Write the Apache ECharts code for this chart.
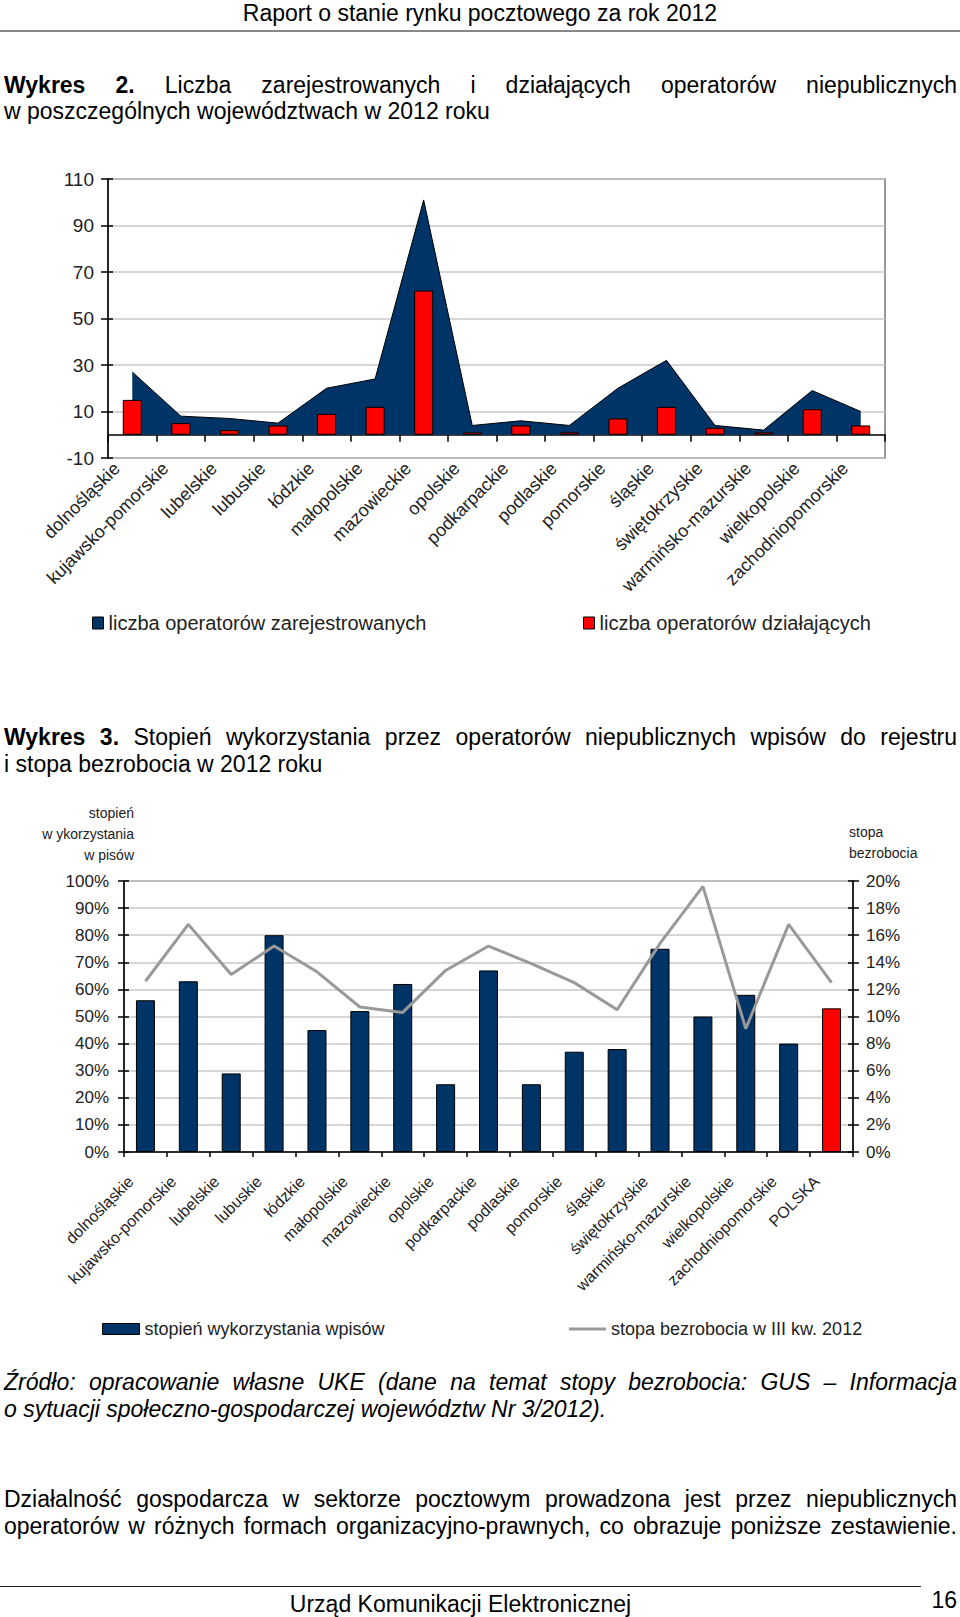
<!DOCTYPE html>
<html>
<head>
<meta charset="utf-8">
<script src="https://cdn.jsdelivr.net/npm/echarts/dist/echarts.min.js"></script>
<style>
  html, body { margin: 0; padding: 0; background: #fff; }
  body { width: 960px; height: 1617px; position: relative; overflow: hidden;
         font-family: 'Liberation Sans', Arial, sans-serif; color: #000; }
  .t { position: absolute; left: 4px; width: 953px; font-size: 23px; line-height: 26px; white-space: nowrap; }
  .j { text-align: justify; text-align-last: justify; }
  .i { font-style: italic; }
  #c1 { position: absolute; left: 0; top: 150px; width: 960px; height: 500px; }
  #c2 { position: absolute; left: 0; top: 770px; width: 960px; height: 580px; }
</style>
</head>
<body>
<div class="t" style="top:0;text-align:center;left:0;width:960px;">Raport o stanie rynku pocztowego za rok 2012</div>
<div style="position:absolute;left:0;top:30px;width:960px;height:2px;background:#888;"></div>

<div class="t j" style="top:72px;"><b>Wykres 2.</b> Liczba zarejestrowanych i działających operatorów niepublicznych</div>
<div class="t" style="top:98px;">w poszczególnych województwach w 2012 roku</div>

<div id="c1"></div>

<div class="t j" style="top:724px;"><b>Wykres 3.</b> Stopień wykorzystania przez operatorów niepublicznych wpisów do rejestru</div>
<div class="t" style="top:751px;">i stopa bezrobocia w 2012 roku</div>

<div id="c2"></div>

<div class="t j i" style="top:1369px;">Źródło: opracowanie własne UKE (dane na temat stopy bezrobocia: GUS – Informacja</div>
<div class="t i" style="top:1396px;">o sytuacji społeczno-gospodarczej województw Nr 3/2012).</div>

<div class="t j" style="top:1486px;">Działalność gospodarcza w sektorze pocztowym prowadzona jest przez niepublicznych</div>
<div class="t j" style="top:1513px;">operatorów w różnych formach organizacyjno-prawnych, co obrazuje poniższe zestawienie.</div>

<div style="position:absolute;left:0;top:1586px;width:921px;height:1px;background:#222;"></div>
<div class="t" style="top:1591px;left:0;width:921px;text-align:center;">Urząd Komunikacji Elektronicznej</div>
<div class="t" style="top:1587px;left:900px;width:57px;text-align:right;">16</div>

<script>
// ---------- DATA ----------
var regions = ['dolnośląskie','kujawsko-pomorskie','lubelskie','lubuskie','łódzkie','małopolskie',
  'mazowieckie','opolskie','podkarpackie','podlaskie','pomorskie','śląskie','świętokrzyskie',
  'warmińsko-mazurskie','wielkopolskie','zachodniopomorskie'];
var registeredOperators = [27, 8, 7, 5, 20, 24, 101, 4, 6, 4, 20, 32, 4, 2, 19, 10];
var activeOperators     = [15, 5, 2, 4, 9, 12, 62, 1, 4, 1, 7, 12, 3, 1, 11, 4];
var yTicks1 = [-10, 10, 30, 50, 70, 90, 110];

var regions2 = regions.concat(['POLSKA']);
var usageRate        = [56, 63, 29, 80, 45, 52, 62, 25, 67, 25, 37, 38, 75, 50, 58, 40, 53];
var unemploymentRate = [12.6, 16.8, 13.1, 15.2, 13.3, 10.7, 10.3, 13.4, 15.2, 13.9, 12.5, 10.5, 15.4, 19.6, 9.1, 16.8, 12.5];
var highlightCategory = 'POLSKA';

var seriesNames1 = ['liczba operatorów zarejestrowanych', 'liczba operatorów działających'];
var seriesNames2 = ['stopień wykorzystania wpisów', 'stopa bezrobocia w III kw. 2012'];
var axisNames2 = ['stopień\nw ykorzystania\nw pisów', 'stopa\nbezrobocia'];

// ---------- STYLE ----------
var FONT = "'Liberation Sans', Arial, sans-serif";
var NAVY = '#003366';
var RED = '#ff0000';
var GREY_LINE = '#999999';
var TXT = '#222';

// ---------- CHART 1 ----------
var c1 = echarts.init(document.getElementById('c1'), null, {renderer: 'svg'});
c1.setOption({
  animation: false,
  textStyle: {fontFamily: FONT},
  grid: {left: 108, right: 75, top: 29, bottom: 192, show: true, borderColor: '#999', borderWidth: 2,
         outerBoundsMode: 'none', containLabel: false},
  legend: [
    {data: [{name: seriesNames1[0], icon: 'rect', itemStyle: {color: NAVY, borderColor: '#000', borderWidth: 1}}],
     left: 92, top: 463, padding: 0, itemWidth: 11, itemHeight: 12, itemGap: 7,
     textStyle: {fontSize: 20, color: TXT, fontFamily: FONT}, selectedMode: false},
    {data: [{name: seriesNames1[1], icon: 'rect', itemStyle: {color: RED, borderColor: '#000', borderWidth: 1}}],
     left: 583, top: 463, padding: 0, itemWidth: 11, itemHeight: 12, itemGap: 7,
     textStyle: {fontSize: 20, color: TXT, fontFamily: FONT}, selectedMode: false}
  ],
  xAxis: {
    type: 'category', data: regions, boundaryGap: true,
    axisLine: {onZero: true, lineStyle: {color: '#000', width: 1.5}},
    axisTick: {show: true, length: 7, inside: false, alignWithLabel: false, lineStyle: {color: '#000', width: 1.5}},
    axisLabel: {rotate: 45, interval: 0, margin: -8, padding: [0, 22, 0, 0], fontSize: 18, color: TXT, fontFamily: FONT},
    splitLine: {show: false}
  },
  yAxis: [
    {type: 'value', min: yTicks1[0], max: yTicks1[yTicks1.length - 1], interval: yTicks1[1] - yTicks1[0], position: 'left',
     axisLine: {show: true, lineStyle: {color: '#000', width: 1.5}},
     axisTick: {show: true, length: 7, lineStyle: {color: '#000', width: 1.5}},
     axisLabel: {margin: 14, fontSize: 19, color: TXT, fontFamily: FONT},
     splitLine: {show: true, lineStyle: {color: '#c8c8c8', width: 1.5}}},
    {type: 'value', min: yTicks1[0], max: yTicks1[yTicks1.length - 1], interval: yTicks1[1] - yTicks1[0], position: 'left',
     axisLine: {show: false}, axisLabel: {show: false}, splitLine: {show: false},
     axisTick: {show: true, inside: true, length: 5, lineStyle: {color: '#000', width: 1.5}}}
  ],
  series: [
    {name: seriesNames1[0], type: 'line', data: registeredOperators, symbol: 'none',
     itemStyle: {color: NAVY}, lineStyle: {color: '#000', width: 1},
     areaStyle: {color: NAVY, opacity: 1}, z: 1},
    {name: seriesNames1[1], type: 'bar', data: activeOperators, barWidth: 19,
     itemStyle: {color: RED, borderColor: '#000', borderWidth: 1}, z: 3}
  ]
});

// ---------- CHART 2 ----------
var c2 = echarts.init(document.getElementById('c2'), null, {renderer: 'svg'});
var usageData = usageRate.map(function (v, i) {
  return regions2[i] === highlightCategory ? {value: v, itemStyle: {color: RED}} : v;
});
var pct = function (v) { return v + '%'; };
c2.setOption({
  animation: false,
  textStyle: {fontFamily: FONT},
  grid: {left: 124, right: 107, top: 111, bottom: 198, show: true, borderColor: '#999', borderWidth: 2,
         outerBoundsMode: 'none', containLabel: false},
  legend: [
    {data: [{name: seriesNames2[0], icon: 'rect', itemStyle: {color: NAVY, borderColor: '#000', borderWidth: 1}}],
     left: 102, top: 550, padding: 0, itemWidth: 37, itemHeight: 11,
     textStyle: {fontSize: 18, color: TXT, fontFamily: FONT}, selectedMode: false},
    {data: [{name: seriesNames2[1], icon: 'rect', itemStyle: {color: GREY_LINE, borderWidth: 0}}],
     left: 569, top: 550, padding: 0, itemWidth: 37, itemHeight: 3,
     textStyle: {fontSize: 18, color: TXT, fontFamily: FONT}, selectedMode: false}
  ],
  xAxis: {
    type: 'category', data: regions2, boundaryGap: true,
    axisLine: {lineStyle: {color: '#000', width: 1.5}},
    axisTick: {show: true, length: 5, alignWithLabel: false, lineStyle: {color: '#000', width: 1.5}},
    axisLabel: {rotate: 45, interval: 0, margin: 12, padding: [0, 21, 0, 0], fontSize: 16, color: TXT, fontFamily: FONT},
    splitLine: {show: false}
  },
  yAxis: [
    {type: 'value', min: 0, max: 100, interval: 10, position: 'left',
     name: axisNames2[0], nameLocation: 'end', nameGap: 16,
     nameTextStyle: {align: 'right', verticalAlign: 'bottom', lineHeight: 21, fontSize: 14, color: TXT, fontFamily: FONT, padding: [0, -10, 0, 0]},
     axisLine: {show: true, lineStyle: {color: '#000', width: 1.5}},
     axisTick: {show: true, length: 6, lineStyle: {color: '#000', width: 1.5}},
     axisLabel: {margin: 15, fontSize: 17, color: TXT, fontFamily: FONT, formatter: pct},
     splitLine: {show: true, lineStyle: {color: '#c8c8c8', width: 1.5}}},
    {type: 'value', min: 0, max: 20, interval: 2, position: 'right',
     name: axisNames2[1], nameLocation: 'end', nameGap: 18,
     nameTextStyle: {align: 'left', verticalAlign: 'bottom', lineHeight: 21, fontSize: 14, color: TXT, fontFamily: FONT, padding: [0, 0, 0, -4]},
     axisLine: {show: true, lineStyle: {color: '#000', width: 1.5}},
     axisTick: {show: true, length: 6, lineStyle: {color: '#000', width: 1.5}},
     axisLabel: {margin: 13, fontSize: 17, color: TXT, fontFamily: FONT, formatter: pct},
     splitLine: {show: false}},
    {type: 'value', min: 0, max: 100, interval: 10, position: 'left',
     axisLine: {show: false}, axisLabel: {show: false}, splitLine: {show: false},
     axisTick: {show: true, inside: true, length: 5, lineStyle: {color: '#000', width: 1.5}}},
    {type: 'value', min: 0, max: 20, interval: 2, position: 'right',
     axisLine: {show: false}, axisLabel: {show: false}, splitLine: {show: false},
     axisTick: {show: true, inside: true, length: 5, lineStyle: {color: '#000', width: 1.5}}}
  ],
  series: [
    {name: seriesNames2[0], type: 'bar', yAxisIndex: 0, data: usageData, barWidth: 19,
     itemStyle: {color: NAVY, borderColor: '#000', borderWidth: 1}},
    {name: seriesNames2[1], type: 'line', yAxisIndex: 1, data: unemploymentRate, symbol: 'none',
     itemStyle: {color: GREY_LINE}, lineStyle: {color: GREY_LINE, width: 3}, z: 3}
  ]
});
</script>
</body>
</html>
